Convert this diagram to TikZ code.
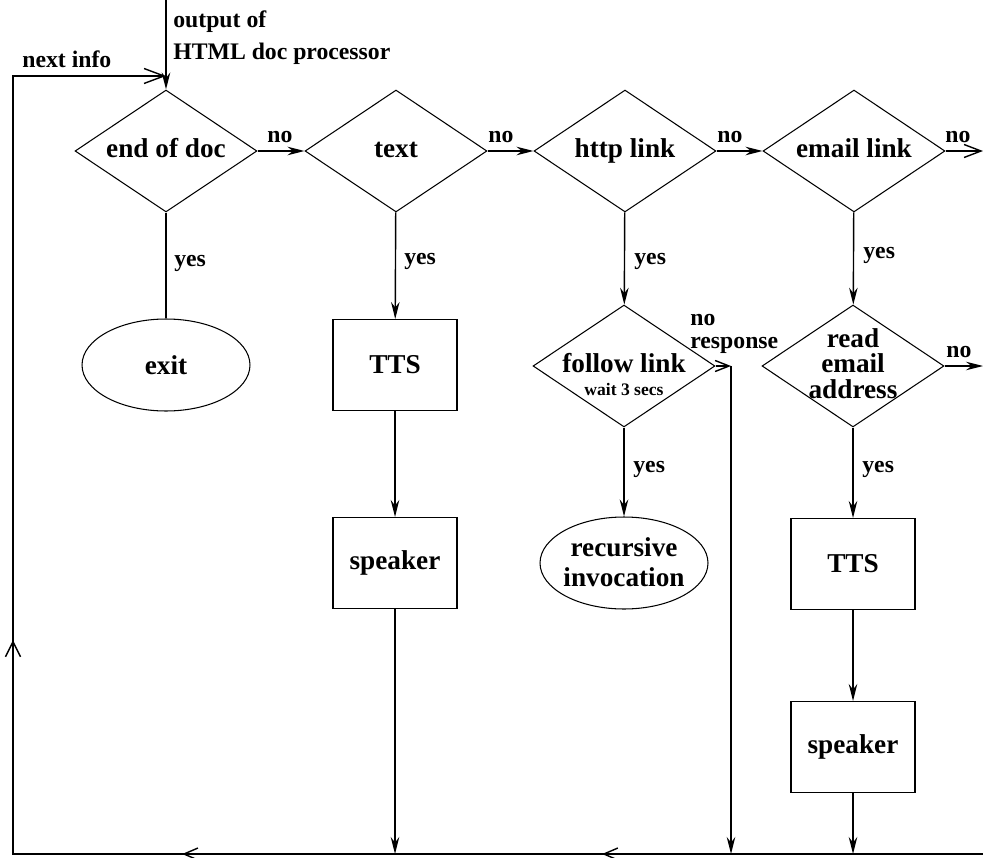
\documentclass[tikz,border=0pt]{standalone}
\usepackage{fontspec}
\setmainfont{Liberation Serif}
\usetikzlibrary{shapes.geometric,arrows.meta,decorations.markings}
\newcommand{\dtext}[2][0pt]{\smash{\raisebox{\dimexpr-.25em-#1\relax}{\makebox[0pt]{\begin{tabular}{@{}c@{}}#2\end{tabular}}}}}
\tikzset{
    every node/.style={inner sep=0mm, font=\bfseries\fontsize{15.5}{17.5}\selectfont}
}
\tikzset{
    decision/.style={diamond, draw, line width=.6pt, minimum width=3.64cm, minimum height=2.44cm},
    process/.style={rectangle, draw, line width=.6pt, minimum width=2.48cm, minimum height=1.82cm},
    terminal/.style={ellipse, draw, line width=.6pt, minimum width=3.36cm, minimum height=1.84cm},
    lbl/.style={anchor=base west, font=\bfseries\fontsize{13.5}{16}\selectfont},
    plain/.style={line width=.8pt},
    arr/.style={line width=.8pt, -{Stealth[length=3.4mm,width=1.7mm]}},
    openarr/.style={line width=.8pt, -{Straight Barb[length=3.4mm,width=2.6mm]}},
    smallopen/.style={line width=.8pt, -{Straight Barb[length=2.8mm,width=2.2mm]}}
}
\tikzset{
    loopback/.style={line width=.8pt, -{Straight Barb[length=4mm,width=3mm]},
        postaction={decorate, decoration={markings,
            mark=at position 7.62cm with {\arrow{Straight Barb[length=2.8mm,width=2.4mm]}},
            mark=at position 16.02cm with {\arrow{Straight Barb[length=2.8mm,width=2.4mm]}},
            mark=at position 23.68cm with {\arrow{Straight Barb[length=3mm,width=3mm]}}}}}
}

\begin{document}
\begin{tikzpicture}[x=0.02cm, y=-0.02cm]
        \useasboundingbox (0,0) rectangle (983,858);
        % decisions
        \node (endq) [decision] at (166,151) {\dtext{end of doc}};
        \node (textq) [decision] at (396,151) {\dtext{text}};
        \node (httpq) [decision] at (625,151) {\dtext{http link}};
        \node (mailq) [decision] at (854,151) {\dtext{email link}};
        \node (exit) [terminal] at (166,365) {\dtext[1.5pt]{exit}};
        \node (tts1) [process] at (395,365) {TTS};
        \node (follow) [decision] at (624,366) {\dtext[6.5pt]{follow link\\[-4.5pt]{\fontsize{10}{12}\selectfont wait 3 secs}}};
        \node (readq) [decision] at (853,366) {\dtext{read\\[-3pt]email\\[-3pt]address}};
        \node (spk1) [process] at (395,563) {speaker};
        \node (recur) [terminal] at (624,563) {\dtext[1pt]{recursive\\invocation}};
        \node (tts2) [process] at (853,564) {TTS};
        \node (spk2) [process] at (853,747) {speaker};
        % ends of the lines
        \coordinate (in) at (166,0);
        \coordinate (join) at (166,76);
        \coordinate (tl) at (13,76);
        \coordinate (bl) at (13,854);
        \coordinate (br) at (983,854);
        \coordinate (nr) at (731,366);
        % labels
        \node (out1) [lbl] at (173,28) {output of};
        \node (out2) [lbl] at (173,60) {HTML doc processor};
        \node (next) [lbl] at (22,68) {next info};
        \node (no1) [lbl] at (267,143) {no};
        \node (no2) [lbl] at (488,143) {no};
        \node (no3) [lbl] at (717,143) {no};
        \node (no4) [lbl] at (945,143) {no};
        \node (no5) [lbl] at (946,357) {no};
        \node (nores1) [lbl] at (690,325) {no};
        \node (nores2) [lbl] at (690,348) {response};
        \node (yes1) [lbl] at (174,266) {yes};
        \node (yes2) [lbl] at (404,264) {yes};
        \node (yes3) [lbl] at (634,264) {yes};
        \node (yes4) [lbl] at (863,258) {yes};
        \node (yes5) [lbl] at (633,472) {yes};
        \node (yes6) [lbl] at (862,472) {yes};
        % connectors
        \draw [arr] (in) -- (endq.north);
        \draw [arr] (endq) -- (textq);
        \draw [arr] (textq) -- (httpq);
        \draw [arr] (httpq) -- (mailq);
        \draw [openarr] (mailq) -- (mailq -| br);
        \draw [plain] (endq) -- (exit);
        \draw [arr] (textq) -- (tts1);
        \draw [arr] (tts1) -- (spk1);
        \draw [arr] (spk1) -- (spk1 |- bl);
        \draw [arr] (httpq) -- (follow);
        \draw [arr] (follow) -- (recur);
        \draw [smallopen] (follow) -- (nr);
        \draw [arr] (nr) -- (nr |- bl);
        \draw [arr] (mailq) -- (readq);
        \draw [arr] (readq) -- (readq -| br);
        \draw [arr] (readq) -- (tts2);
        \draw [arr] (tts2) -- (spk2);
        \draw [arr] (spk2) -- (spk2 |- bl);
        \draw [loopback] (br) -- (bl) -- (tl) -- (join);
\end{tikzpicture}
\end{document}
